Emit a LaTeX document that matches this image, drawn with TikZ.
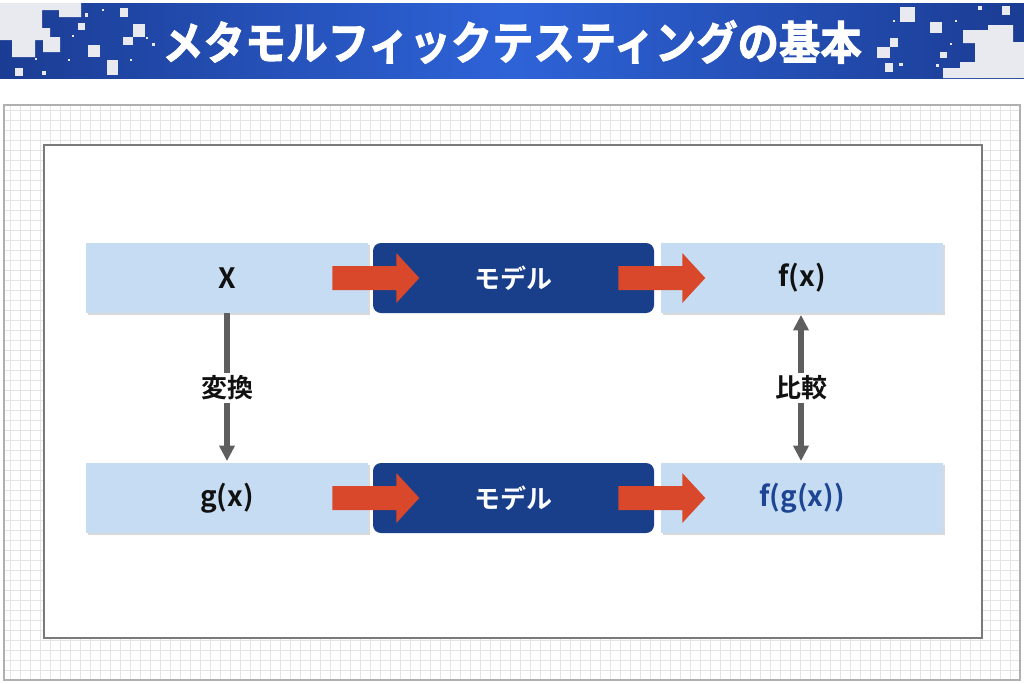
\documentclass[tikz,border=0pt]{standalone}
\usepackage{fontspec}
\setmainfont{Noto Sans CJK JP}[BoldFont={Noto Sans CJK JP Bold}]
\newfontfamily\titlefont{Noto Sans CJK JP Bold}[FakeBold=2]
\usetikzlibrary{calc}
\definecolor{bandedge}{HTML}{1B3C93}
\definecolor{bandmid}{HTML}{2E63D8}
\definecolor{mosaic}{HTML}{E9EAEF}
\definecolor{gridc}{HTML}{E4E4E4}
\definecolor{panelborder}{HTML}{B0B0B0}
\definecolor{innerborder}{HTML}{7A7A7A}
\definecolor{lightbox}{HTML}{C6DCF2}
\definecolor{darkbox}{HTML}{1A3F8A}
\definecolor{orangearr}{HTML}{D9482A}
\definecolor{grayarr}{HTML}{5E5E5E}
\definecolor{fgblue}{HTML}{1D4593}
\definecolor{txt}{HTML}{111111}
\tikzset{
  lbox/.style={fill=lightbox, minimum width=211.5pt, minimum height=52.5pt, inner sep=0pt,
    font=\fontsize{21}{24}\selectfont\bfseries, text=txt},
  dbox/.style={fill=darkbox, rounded corners=6pt, minimum width=210.75pt, minimum height=52.5pt, inner sep=0pt,
    font=\fontsize{19.5}{22}\selectfont\bfseries, text=white},
  shadowbox/.style={fill=black!15},
  lbl/.style={fill=white, inner sep=2pt, font=\fontsize{19.5}{22}\selectfont\bfseries, text=txt},
  vline/.style={draw=grayarr, line width=4.5pt},
  blockarrow/.style={fill=orangearr},
}
\begin{document}
\begin{tikzpicture}[x=0.75pt, y=-0.75pt]
\useasboundingbox (0,0) rectangle (1024,683);
\fill[white] (0,0) rectangle (1024,683);
% ---- banner ----
\fill[left color=bandedge, right color=bandedge, middle color=bandmid] (0,3) rectangle (1024,78);
\fill[mosaic] (0,3)--(81,3)--(81,17)--(59,17)--(59,10)--(42,10)--(42,28)--(50,28)--(50,37)--(60,37)--(60,52)--(43,52)--(43,40)--(35,40)--(35,57)--(12,57)--(12,40)--(0,40)--cycle;
\foreach \a/\b/\c/\d in {15/68/23/76, 42/71/46/75, 88/45/100/57, 107/60/118/75, 120/8/128/17, 123/37/133/45, 133/24/145/37, 152/43/155/46, 78/23/85/30, 85/13/88/17, 35/58/37/60, 68/59/70/61, 72/35/74/37, 130/59/132/61, 102/9/104/11, 146/37/148/39}
  \fill[mosaic] (\a,\b) rectangle (\c,\d);
\fill[mosaic] (963,30)--(988,30)--(988,25)--(1013,25)--(1013,42)--(1024,42)--(1024,78)--(943,78)--(943,68)--(960,68)--(960,62)--(975,62)--(975,43)--(963,43)--cycle;
\foreach \a/\b/\c/\d in {900/7/915/22, 930/22/942/33, 978/6/982/10, 1002/6/1010/15, 890/38/898/47, 877/47/890/58, 885/63/893/72, 899/63/903/66, 940/52/947/58, 936/64/939/67, 950/43/952/45, 893/20/895/22, 955/20/957/22}
  \fill[mosaic] (\a,\b) rectangle (\c,\d);
\node[text=white, font=\fontsize{31}{34}\titlefont] (title) at (512,42) {\scalebox{1}[1.1]{メタモルフィックテスティングの基本}};
% ---- grid panel ----
\fill[white] (4,105) rectangle (1020,680);
\foreach \gx in {10,20,...,1010} \draw[gridc, line width=0.4pt] (\gx,105) -- (\gx,680);
\foreach \gy in {110,120,...,670} \draw[gridc, line width=0.4pt] (4,\gy) -- (1020,\gy);
\draw[panelborder, line width=0.8pt] (4,105) rectangle (1020,680);
\fill[white] (44,145) rectangle (982,638);
\draw[innerborder, line width=0.8pt] (44,145) rectangle (982,638);
% ---- shadows ----
\foreach \cx/\cy in {227/278, 802/278, 227/498, 802/498}
  \fill[shadowbox] ($(\cx,\cy)+(-139,-33)$) rectangle ($(\cx,\cy)+(143,37)$);
% ---- boxes ----
\node[lbox] (x) at (227,278) {X};
\node[dbox] (m1) at (513.5,278) {モデル};
\node[lbox] (fx) at (802,278) {f(x)};
\node[lbox] (gx) at (227,498) {g(x)};
\node[dbox] (m2) at (513.5,498) {モデル};
\node[lbox, text=fgblue] (fgx) at (802,498) {f(g(x))};
% ---- block arrows ----
\foreach \s/\t in {x/m1, m1/fx, gx/m2, m2/fgx}{
  \coordinate (st) at ($(\s.east)+(-36,0)$);
  \fill[blockarrow] ($(st)+(0,-12)$) -- ($(st)+(64,-12)$) -- ($(st)+(64,-25)$) -- ($(st)+(87,0)$) -- ($(st)+(64,25)$) -- ($(st)+(64,12)$) -- ($(st)+(0,12)$) -- cycle;
}
% ---- vertical connectors ----
\node[lbl] (henkan) at (227,388) {変換};
\node[lbl] (hikaku) at (801,388) {比較};
\draw[vline] (x.south) -- (henkan.north);
\draw[vline] (henkan.south) -- ($(gx.north)+(0,-16)$);
\fill[grayarr] ($(gx.north)+(0,-2)$) -- ($(gx.north)+(-8,-17)$) -- ($(gx.north)+(8,-17)$) -- cycle;
\draw[vline] ($(fx.south)+(-1,16)$) -- (hikaku.north);
\fill[grayarr] ($(fx.south)+(-1,2)$) -- ($(fx.south)+(-9,17)$) -- ($(fx.south)+(7,17)$) -- cycle;
\draw[vline] (hikaku.south) -- ($(fgx.north)+(-1,-16)$);
\fill[grayarr] ($(fgx.north)+(-1,-2)$) -- ($(fgx.north)+(-9,-17)$) -- ($(fgx.north)+(7,-17)$) -- cycle;
\end{tikzpicture}
\end{document}
